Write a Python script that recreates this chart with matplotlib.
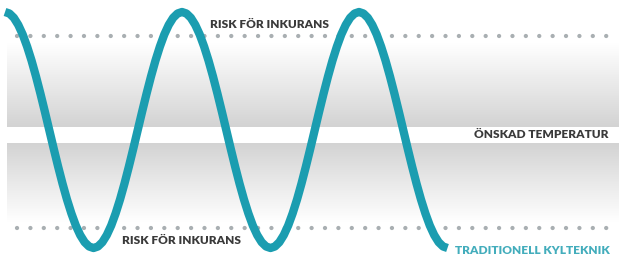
import numpy as np
import matplotlib.pyplot as plt
from matplotlib.colors import LinearSegmentedColormap

# temperature deviation from the desired level at even time steps
temp = [123.0, 121.5, 117.2, 110.1, 100.5, 88.4, 74.4, 58.6, 41.5, 23.5, 5.0,
        -13.5, -31.5, -48.6, -64.4, -78.4, -90.5, -100.1, -107.2, -111.5, -113.0,
        -111.5, -107.2, -100.1, -90.5, -78.4, -64.4, -48.6, -31.5, -13.5, 5.0,
        23.5, 41.5, 58.6, 74.4, 88.4, 100.5, 110.1, 117.2, 121.5, 123.0,
        121.5, 117.2, 110.1, 100.5, 88.4, 74.4, 58.6, 41.5, 23.5, 5.0,
        -13.5, -31.5, -48.6, -64.4, -78.4, -90.5, -100.1, -107.2, -111.5, -113.0,
        -111.5, -107.2, -100.1, -90.5, -78.4, -64.4, -48.6, -31.5, -13.5, 5.0,
        23.5, 41.5, 58.6, 74.4, 88.4, 100.5, 110.1, 117.2, 121.5, 123.0,
        121.5, 117.2, 110.1, 100.5, 88.4, 74.4, 58.6, 41.5, 23.5, 5.0,
        -13.5, -31.5, -48.6, -64.4, -78.4, -90.5, -100.1, -107.2, -111.5, -113.0]

risk_high = 99
risk_low = -93
band_inner = 8
band_outer_high = 92
band_outer_low = -87

label_risk = "RISK FÖR INKURANS"
label_target = "ÖNSKAD TEMPERATUR"
label_curve = "TRADITIONELL KYLTEKNIK"

wave_color = "#1b9db0"
dot_color = "#a9afb2"
text_color = "#3a3a3a"
font = ["Lato", "DejaVu Sans"]

W, H = 619, 260
step = 4.425  # pixels per sample
x0 = 5        # pixel of first sample

fig = plt.figure(figsize=(W / 100, H / 100), dpi=100)
ax = fig.add_axes([0, 0, 1, 1])
ax.set_xlim(-x0 / step, (W - x0) / step)
ax.set_ylim(-125, 135)
ax.axis("off")

def px(x):
    return (x - x0) / step

# grey gradient bands around the desired temperature
cmap = LinearSegmentedColormap.from_list("band", ["#d3d3d3", "#ffffff"])
grad = np.linspace(0, 1, 256).reshape(-1, 1)
ax.imshow(grad, cmap=cmap, aspect="auto", origin="lower",
          extent=[px(7), px(W), band_inner, band_outer_high], zorder=0)
ax.imshow(grad, cmap=cmap, aspect="auto", origin="upper",
          extent=[px(7), px(W), band_outer_low, -band_inner], zorder=0)

# dotted risk limits
for lvl in (risk_high, risk_low):
    ax.plot([px(17), px(616)], [lvl, lvl], color=dot_color, lw=3.1,
            linestyle=(0, (0.01, 3.1)), dash_capstyle="round", zorder=1)

t = np.arange(len(temp))
ax.plot(t, temp, color=wave_color, lw=6, solid_capstyle="butt",
        solid_joinstyle="round", zorder=3)

kw = dict(transform=ax.transAxes, family=font, fontweight="heavy",
          fontsize=8.6, va="center", zorder=4)
ax.text(210 / W, 1 - 25 / H, label_risk, color=text_color, ha="left", **kw)
ax.text(122 / W, 1 - 240 / H, label_risk, color=text_color, ha="left", **kw)
ax.text(609 / W, 1 - 135 / H, label_target, color=text_color, ha="right", **kw)
ax.text(455 / W, 1 - 251 / H, label_curve, color="#43adbc", ha="left", **kw)

fig.savefig("out.png", dpi=100)
